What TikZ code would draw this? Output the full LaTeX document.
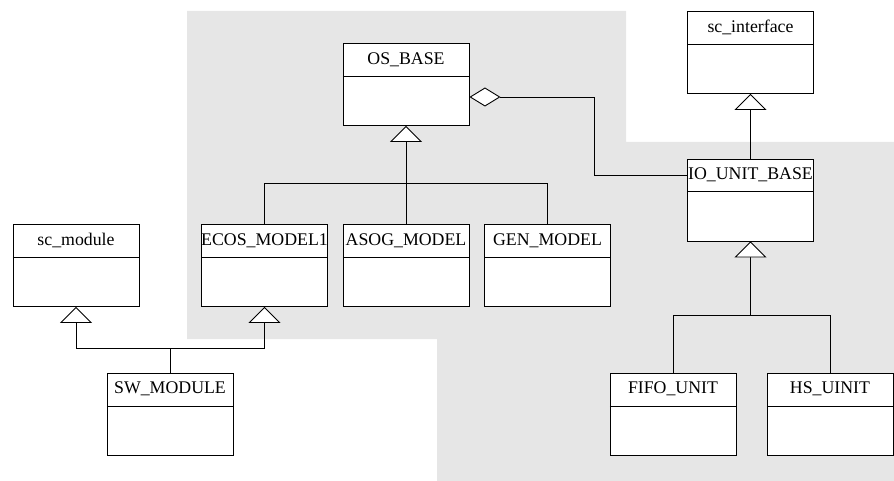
\documentclass[tikz,border=0pt]{standalone}
\usepackage{fontspec}
\setmainfont{Liberation Serif}
\usetikzlibrary{arrows.meta}
\definecolor{bggray}{RGB}{230,230,230}
\tikzset{
  cls/.style={draw, fill=white, line width=0.9pt, minimum width=126pt, minimum height=82pt, inner sep=0pt},
  hdr/.style={anchor=north, minimum width=126pt, minimum height=33pt, inner sep=0pt, font=\fontsize{17.8}{20}\selectfont},
  inh/.style={line width=0.9pt, -{Triangle[open, length=16pt 0, width=32pt 0, fill=white]}},
  aggr/.style={line width=0.9pt, -{Diamond[open, length=31pt 0, width=19pt 0, fill=white]}},
  plain/.style={line width=0.9pt}
}
\newcommand{\umlclass}[4]{%
  \node[cls] (#1) at (#2,#3) {};
  \node[hdr] (#1h) at (#1.north) {#4};
  \draw[plain] (#1h.south west) -- (#1h.south east);
}
\begin{document}
\begin{tikzpicture}[x=1pt,y=-1pt]
\useasboundingbox (0,0) rectangle (894,481);
\fill[bggray] (187,11) -- (626,11) -- (626,142) -- (894,142) -- (894,481) -- (437,481) -- (437,339) -- (187,339) -- cycle;

\umlclass{os}{406}{84.5}{OS\_BASE}
\umlclass{sci}{750.5}{52.5}{sc\_interface}
\umlclass{io}{750.5}{200}{IO\_UNIT\_BASE}
\umlclass{scm}{76}{265.5}{sc\_module}
\umlclass{ecos}{264.5}{265.5}{ECOS\_MODEL1}
\umlclass{asog}{406}{265.5}{ASOG\_MODEL}
\umlclass{gen}{547.5}{265.5}{GEN\_MODEL}
\umlclass{sw}{170}{414}{SW\_MODULE}
\umlclass{fifo}{673}{414}{FIFO\_UNIT}
\umlclass{hs}{830}{414}{HS\_UINIT}

\coordinate (osj) at (406,183);
\coordinate (ioj) at (750.5,315);
\coordinate (swj) at (170,348);
\coordinate (aggc) at (594,97);

% OS_BASE hierarchy
\draw[inh] (ecos.north) |- (osj) -- (os.south);
\draw[plain] (asog.north) -- (osj);
\draw[plain] (gen.north) |- (osj);

% IO_UNIT_BASE hierarchy
\draw[inh] (fifo.north) |- (ioj) -- (io.south);
\draw[plain] (hs.north) |- (ioj);
\draw[inh] (io.north) -- (sci.south);

% SW_MODULE
\draw[inh] (sw.north) -- (swj) -| (scm.south);
\draw[inh] (swj) -| (ecos.south);

% aggregation
\draw[aggr] (ioh.west) -| (aggc) -- (aggc -| os.east);
\end{tikzpicture}
\end{document}
